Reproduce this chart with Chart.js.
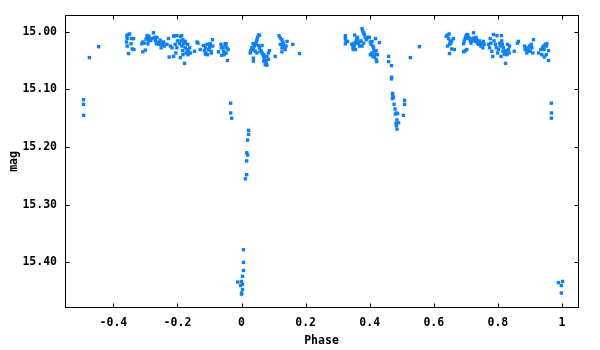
<!DOCTYPE html>
<html>
<head>
  <meta charset="UTF-8">
  <title>Phase vs mag</title>
  <style>
    body { margin: 0; background: #fff; }
    #wrap { width: 600px; height: 350px; }
  </style>
  <script src="https://cdn.jsdelivr.net/npm/chart.js"></script>
</head>
<body>
  <div id="wrap"><canvas id="lc" width="600" height="350"></canvas></div>

  <script>
  // [phase, mag], one array per stretch of the light curve
  const edgeLeft = [
    [-0.493, 15.118], [-0.493, 15.126], [-0.493, 15.145], [-0.475, 15.045], [-0.446, 15.026]
  ];

  const maxBeforePrimary = [
    [-0.358, 15.007], [-0.354, 15.005], [-0.349, 15.004], [-0.357, 15.012], [-0.344, 15.012],
    [-0.359, 15.018], [-0.357, 15.025], [-0.345, 15.021], [-0.353, 15.038], [-0.341, 15.030],
    [-0.336, 15.031], [-0.337, 15.012],
    [-0.311, 15.021], [-0.308, 15.018], [-0.304, 15.020], [-0.298, 15.013], [-0.295, 15.007],
    [-0.293, 15.011], [-0.290, 15.015], [-0.287, 15.012], [-0.284, 15.015], [-0.280, 15.012],
    [-0.275, 15.002], [-0.272, 15.010], [-0.269, 15.015], [-0.266, 15.021], [-0.264, 15.010],
    [-0.262, 15.018], [-0.259, 15.022], [-0.256, 15.020], [-0.254, 15.015], [-0.251, 15.028],
    [-0.248, 15.022], [-0.245, 15.020], [-0.243, 15.018], [-0.241, 15.025], [-0.308, 15.035],
    [-0.300, 15.032], [-0.292, 15.021], [-0.289, 15.008],
    [-0.233, 15.022], [-0.228, 15.012], [-0.226, 15.044], [-0.222, 15.025], [-0.217, 15.028],
    [-0.212, 15.008], [-0.210, 15.007], [-0.207, 15.022], [-0.212, 15.043], [-0.205, 15.037],
    [-0.202, 15.007], [-0.202, 15.028], [-0.200, 15.016], [-0.194, 15.021], [-0.191, 15.008],
    [-0.189, 15.016], [-0.187, 15.007], [-0.186, 15.025], [-0.184, 15.033], [-0.191, 15.045],
    [-0.183, 15.040], [-0.181, 15.021], [-0.179, 15.020], [-0.178, 15.055], [-0.176, 15.028],
    [-0.173, 15.037], [-0.170, 15.031], [-0.168, 15.022], [-0.167, 15.040], [-0.165, 15.034],
    [-0.162, 15.028], [-0.160, 15.037], [-0.183, 15.014], [-0.176, 15.017],
    [-0.147, 15.034], [-0.139, 15.018], [-0.136, 15.020], [-0.129, 15.031], [-0.119, 15.024],
    [-0.116, 15.033], [-0.113, 15.028], [-0.111, 15.037], [-0.108, 15.022], [-0.106, 15.040],
    [-0.103, 15.031], [-0.100, 15.027], [-0.098, 15.022], [-0.095, 15.034], [-0.091, 15.014],
    [-0.094, 15.037], [-0.090, 15.025], [-0.113, 15.039], [-0.098, 15.021],
    [-0.072, 15.035], [-0.064, 15.022], [-0.062, 15.041], [-0.058, 15.028], [-0.054, 15.040],
    [-0.051, 15.024], [-0.048, 15.021], [-0.046, 15.028], [-0.044, 15.050], [-0.048, 15.037],
    [-0.042, 15.031], [-0.056, 15.034], [-0.051, 15.021], [-0.063, 15.028]
  ];

  const primary = [
    [-0.034, 15.124], [-0.034, 15.141], [-0.031, 15.150],
    [0.022, 15.171], [0.022, 15.178], [0.019, 15.188], [0.016, 15.210], [0.019, 15.214],
    [0.016, 15.224], [0.016, 15.248], [0.012, 15.255], [0.006, 15.378], [0.006, 15.400],
    [0.006, 15.414], [0.003, 15.424], [-0.012, 15.434], [0.000, 15.433], [0.003, 15.438],
    [-0.003, 15.440], [0.003, 15.447], [0.000, 15.453], [0.000, 15.455]
  ];

  const maxAfterPrimary = [
    [0.053, 15.006], [0.050, 15.010], [0.048, 15.014], [0.046, 15.018], [0.043, 15.022],
    [0.040, 15.025], [0.036, 15.021], [0.032, 15.028], [0.029, 15.033], [0.027, 15.037],
    [0.037, 15.031], [0.043, 15.034], [0.048, 15.037], [0.053, 15.024], [0.056, 15.028],
    [0.061, 15.033], [0.064, 15.037], [0.067, 15.040], [0.069, 15.043], [0.071, 15.047],
    [0.074, 15.050], [0.077, 15.054], [0.079, 15.058], [0.074, 15.057], [0.069, 15.051],
    [0.079, 15.043], [0.084, 15.037], [0.087, 15.033], [0.084, 15.048], [0.064, 15.024],
    [0.037, 15.046], [0.037, 15.051], [0.056, 15.006], [0.105, 15.043], [0.058, 15.034],
    [0.069, 15.040], [0.077, 15.057],
    [0.117, 15.007], [0.121, 15.011], [0.126, 15.014], [0.129, 15.018], [0.131, 15.022],
    [0.133, 15.027], [0.136, 15.031], [0.139, 15.025], [0.126, 15.028], [0.121, 15.022],
    [0.126, 15.035], [0.142, 15.017], [0.160, 15.022], [0.181, 15.038],
    [0.324, 15.007], [0.324, 15.012], [0.326, 15.017], [0.324, 15.021], [0.331, 15.017],
    [0.346, 15.022], [0.348, 15.028], [0.349, 15.031], [0.352, 15.025], [0.355, 15.020],
    [0.353, 15.006], [0.358, 15.016], [0.360, 15.012], [0.362, 15.010], [0.365, 15.020],
    [0.368, 15.025], [0.373, 15.016], [0.376, 14.995], [0.378, 14.999], [0.381, 15.002],
    [0.383, 15.005], [0.386, 15.010], [0.389, 15.014], [0.391, 15.011], [0.396, 15.010],
    [0.399, 15.010], [0.402, 15.018], [0.404, 15.022], [0.407, 15.017], [0.410, 15.025],
    [0.412, 15.028], [0.414, 15.033], [0.407, 15.037], [0.402, 15.040], [0.410, 15.043],
    [0.414, 15.044], [0.417, 15.039], [0.420, 15.033], [0.424, 15.040], [0.420, 15.048],
    [0.422, 15.052], [0.418, 15.012], [0.430, 15.019], [0.344, 15.022], [0.349, 15.028],
    [0.355, 15.031], [0.352, 15.020], [0.360, 15.014], [0.370, 15.017], [0.376, 15.025],
    [0.381, 15.020]
  ];

  const secondary = [
    [0.459, 15.043], [0.459, 15.052], [0.468, 15.059], [0.468, 15.079], [0.468, 15.082],
    [0.471, 15.107], [0.472, 15.110], [0.471, 15.116], [0.474, 15.114], [0.476, 15.126],
    [0.479, 15.134], [0.480, 15.143], [0.483, 15.141], [0.487, 15.142], [0.485, 15.153],
    [0.482, 15.159], [0.490, 15.158], [0.483, 15.163], [0.485, 15.169], [0.509, 15.119],
    [0.509, 15.126], [0.505, 15.145], [0.527, 15.045], [0.555, 15.026]
  ];

  const maxAfterSecondary = [
    [0.639, 15.008], [0.643, 15.006], [0.646, 15.012], [0.648, 15.004], [0.651, 15.017],
    [0.653, 15.020], [0.656, 15.016], [0.661, 15.012], [0.649, 15.022], [0.643, 15.025],
    [0.649, 15.038], [0.656, 15.030], [0.664, 15.031],
    [0.693, 15.021], [0.695, 15.016], [0.698, 15.012], [0.700, 15.008], [0.703, 15.005],
    [0.706, 15.006], [0.708, 15.012], [0.711, 15.011], [0.714, 15.017], [0.716, 15.020],
    [0.719, 15.016], [0.722, 15.012], [0.724, 15.002], [0.726, 15.011], [0.729, 15.017],
    [0.732, 15.010], [0.734, 15.014], [0.736, 15.020], [0.739, 15.022], [0.743, 15.016],
    [0.745, 15.021], [0.747, 15.025], [0.750, 15.020], [0.753, 15.028], [0.755, 15.017],
    [0.757, 15.022], [0.693, 15.035], [0.698, 15.033], [0.703, 15.031],
    [0.771, 15.022], [0.774, 15.028], [0.776, 15.012], [0.778, 15.020], [0.781, 15.034],
    [0.784, 15.043], [0.786, 15.005], [0.788, 15.016], [0.792, 15.022], [0.795, 15.028],
    [0.797, 15.007], [0.799, 15.037], [0.802, 15.031], [0.805, 15.020], [0.807, 15.025],
    [0.811, 15.007], [0.812, 15.016], [0.814, 15.022], [0.810, 15.043], [0.816, 15.034],
    [0.817, 15.028], [0.820, 15.039], [0.823, 15.037], [0.824, 15.055], [0.826, 15.033],
    [0.828, 15.040], [0.830, 15.022], [0.833, 15.031], [0.835, 15.037], [0.836, 15.025],
    [0.851, 15.034], [0.861, 15.020], [0.864, 15.017],
    [0.883, 15.025], [0.885, 15.031], [0.888, 15.028], [0.890, 15.037], [0.894, 15.033],
    [0.897, 15.028], [0.899, 15.025], [0.901, 15.034], [0.904, 15.022], [0.906, 15.028],
    [0.911, 15.014], [0.909, 15.037], [0.927, 15.037], [0.934, 15.031], [0.937, 15.040],
    [0.940, 15.028], [0.942, 15.025], [0.944, 15.031], [0.948, 15.022], [0.951, 15.025],
    [0.953, 15.021], [0.945, 15.044], [0.951, 15.040], [0.958, 15.033], [0.958, 15.050]
  ];

  const edgeRight = [
    [0.967, 15.124], [0.967, 15.141], [0.967, 15.150],
    [0.989, 15.435], [1.002, 15.433], [0.998, 15.440], [0.998, 15.453]
  ];

  const xTicks = [-0.4, -0.2, 0, 0.2, 0.4, 0.6, 0.8, 1];
  const yTicks = [15.00, 15.10, 15.20, 15.30, 15.40];

  const allPoints = [].concat(edgeLeft, maxBeforePrimary, primary, maxAfterPrimary,
    secondary, maxAfterSecondary, edgeRight).map(p => ({ x: p[0], y: p[1] }));

  const tickFont = { family: "'DejaVu Sans Mono', monospace", size: 11.5, weight: 'bold' };

  // gnuplot style box with inward tick marks
  const frame = {
    id: 'frame',
    afterDraw(chart) {
      const ctx = chart.ctx;
      const a = chart.chartArea;
      const x = chart.scales.x, y = chart.scales.y;
      const L = Math.round(a.left) + 0.5, R = Math.round(a.right) + 0.5;
      const T = Math.round(a.top) + 0.5, B = Math.round(a.bottom) - 0.5;
      ctx.save();
      ctx.strokeStyle = '#000';
      ctx.lineWidth = 1;
      ctx.strokeRect(L, T, R - L, B - T);
      ctx.beginPath();
      xTicks.forEach(v => {
        const px = Math.round(x.getPixelForValue(v)) + 0.5;
        ctx.moveTo(px, B); ctx.lineTo(px, B - 4);
        ctx.moveTo(px, T); ctx.lineTo(px, T + 4);
      });
      yTicks.forEach(v => {
        const py = Math.round(y.getPixelForValue(v)) + 0.5;
        ctx.moveTo(L, py); ctx.lineTo(L + 4, py);
        ctx.moveTo(R, py); ctx.lineTo(R - 4, py);
      });
      ctx.stroke();
      ctx.restore();
    }
  };

  new Chart(document.getElementById('lc'), {
    type: 'scatter',
    data: {
      datasets: [{
        label: 'mag',
        data: allPoints,
        pointStyle: 'rect',
        pointRadius: 2.4,
        pointBorderWidth: 0,
        backgroundColor: '#0a80ff',
        borderColor: '#0a80ff'
      }]
    },
    options: {
      responsive: false,
      animation: false,
      layout: { padding: { top: 13, right: 22, left: 0, bottom: 0 } },
      plugins: {
        legend: { display: false },
        tooltip: { enabled: false }
      },
      scales: {
        x: {
          type: 'linear',
          min: -0.551,
          max: 1.05,
          grid: { display: false, drawTicks: false },
          border: { display: false },
          afterFit: s => { s.height = 42; },
          afterBuildTicks: s => { s.ticks = xTicks.map(v => ({ value: v })); },
          ticks: {
            padding: 8,
            color: '#000',
            font: tickFont,
            maxRotation: 0,
            callback: v => String(v)
          },
          title: {
            display: true,
            text: 'Phase',
            color: '#000',
            font: tickFont,
            padding: { top: 0, bottom: 2 }
          }
        },
        y: {
          type: 'linear',
          reverse: true,
          min: 14.971,
          max: 15.479,
          grid: { display: false, drawTicks: false },
          border: { display: false },
          afterFit: s => { s.width = 65; },
          afterBuildTicks: s => { s.ticks = yTicks.map(v => ({ value: v })); },
          ticks: {
            padding: 8,
            color: '#000',
            font: tickFont,
            callback: v => v.toFixed(2)
          },
          title: {
            display: true,
            text: 'mag',
            color: '#000',
            font: tickFont,
            padding: { top: 7, bottom: 0 }
          }
        }
      }
    },
    plugins: [frame]
  });
  </script>
</body>
</html>
